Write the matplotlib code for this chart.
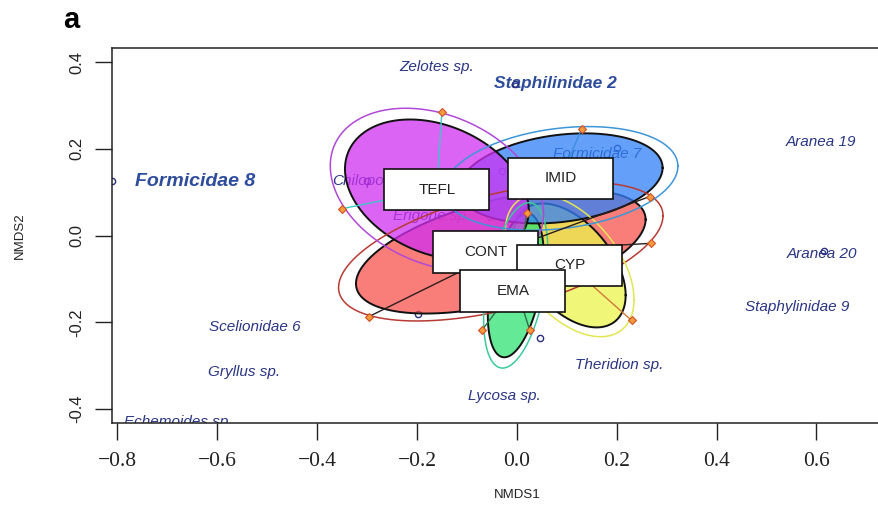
import matplotlib
matplotlib.use("Agg")
import matplotlib.pyplot as plt
from matplotlib.patches import Polygon, Rectangle
import numpy as np

# treatment groups (drawn in factor order, like vegan does)
groups = ["CONT", "CYP", "EMA", "IMID", "TEFL"]
cent_x = [-0.032, 0.106, -0.002, 0.088, -0.160]
cent_y = [-0.037, -0.069, -0.115, 0.132, 0.106]
half_x = [0.290, 0.112, 0.056, 0.204, 0.184]
half_y = [0.143, 0.143, 0.166, 0.104, 0.162]
corr = [0.517, -0.48, 0.41, 0.235, -0.293]
outer_scale = [1.12, 1.15, 1.15, 1.15, 1.16]
label_x = [-0.062, 0.106, -0.008, 0.088, -0.160]
label_y = [-0.038, -0.069, -0.128, 0.132, 0.106]

fill_cols = ["#F8514B", "#EBF54B", "#30E473", "#3080F8", "#D030F1"]
line_cols = ["#B83A34", "#E2E650", "#3CCB98", "#3C96D8", "#B048D8"]
spider_cols = ["#2A1E1E", "#D0783A", "#2E6E48", "#3A8FD8", "#3CC8C8"]

# sites (spider end points)
site_group = ["CONT", "CONT", "CONT", "CYP", "EMA", "EMA", "EMA", "IMID", "TEFL", "TEFL"]
site_x = [-0.296, 0.268, 0.266, 0.230, -0.070, 0.026, 0.020, 0.130, -0.150, -0.350]
site_y = [-0.187, -0.018, 0.090, -0.196, -0.219, -0.219, 0.051, 0.247, 0.286, 0.062]

# species scores
sp_names = ["Zelotes sp.", "Staphilinidae 2", "Formicidae 8", "Aranea 19", "Formicidae 7",
            "Chilopoda", "Erigone sp.", "Aranea 20", "Staphylinidae 9", "Scelionidae 6",
            "Gryllus sp.", "Theridion sp.", "Lycosa sp.", "Echemoides sp."]
sp_x = [-0.160, 0.078, -0.644, 0.610, 0.162, -0.300, -0.170, 0.612, 0.562, -0.524,
        -0.546, 0.206, -0.024, -0.678]
sp_y = [0.388, 0.351, 0.125, 0.215, 0.189, 0.125, 0.046, -0.042, -0.166, -0.212,
        -0.314, -0.298, -0.370, -0.430]
sp_bold = [False, True, True, False, False, False, False, False, False, False,
           False, False, False, False]
sp_size = [11, 12.5, 14, 11, 11, 11, 11, 11, 11, 11, 11, 11, 11, 11]

pt_x = [0.200, -0.030, -0.198, 0.046, 0.616, -0.300, -0.004, -0.810, -0.054]
pt_y = [0.203, 0.148, -0.180, -0.236, -0.035, 0.125, 0.351, 0.125, 0.042]

x_ticks = [-0.8, -0.6, -0.4, -0.2, 0.0, 0.2, 0.4, 0.6]
y_ticks = [-0.4, -0.2, 0.0, 0.2, 0.4]


def ellipse_xy(cx, cy, hx, hy, rho, scale=1.0, n=240):
    t = np.linspace(0, 2 * np.pi, n)
    x = cx + scale * hx * np.cos(t)
    y = cy + scale * hy * (rho * np.cos(t) + np.sqrt(1 - rho ** 2) * np.sin(t))
    return x, y


def fmt(v, minus):
    s = "%.1f" % abs(v)
    return (minus + s) if v < -1e-9 else s


fig = plt.figure(figsize=(8.79, 5.2), dpi=100)
ax = fig.add_axes([0.1271, 0.1871, 0.904, 0.7206])
ax.set_xlim(-0.811, 0.78)
ax.set_ylim(-0.432, 0.433)

# species names
for name, x, y, b, fs in zip(sp_names, sp_x, sp_y, sp_bold, sp_size):
    if b:
        ax.text(x, y, name, fontsize=fs, style="italic", weight="bold", color="#2E4C9C",
                ha="center", va="center", family="Liberation Sans", zorder=1, clip_on=True)
    else:
        ax.text(x, y, name, fontsize=fs, style="italic", color="#2A3585",
                ha="center", va="center", family="Liberation Sans", zorder=1, clip_on=True)
ax.plot(pt_x, pt_y, "o", mfc="none", mec="#2A2F80", ms=4.5, mew=1, zorder=1.5)

# ellipses
for i, g in enumerate(groups):
    ex, ey = ellipse_xy(cent_x[i], cent_y[i], half_x[i], half_y[i], corr[i])
    ax.add_patch(Polygon(np.column_stack([ex, ey]), closed=True, facecolor=fill_cols[i],
                         alpha=0.75, edgecolor="none", zorder=2 + i * 0.1))
    ax.plot(ex, ey, color="#111111", lw=1.4, zorder=2.05 + i * 0.1)
    ox, oy = ellipse_xy(cent_x[i], cent_y[i], half_x[i], half_y[i], corr[i], outer_scale[i])
    ax.plot(ox, oy, color=line_cols[i], lw=1.1, zorder=3)

# spiders
for g, x, y in zip(site_group, site_x, site_y):
    i = groups.index(g)
    ax.plot([cent_x[i], x], [cent_y[i], y], color=spider_cols[i], lw=1, zorder=4)
ax.plot(site_x, site_y, "D", color="#F39C3C", mec="#D0502A", ms=4, mew=0.8, zorder=5)

# group labels in boxes
bw, bh = 0.21, 0.095
for i, g in enumerate(groups):
    ax.add_patch(Rectangle((label_x[i] - bw / 2, label_y[i] - bh / 2), bw, bh,
                           facecolor="white", edgecolor="#111111", lw=1.2, zorder=6 + i))
    ax.text(label_x[i], label_y[i], g, fontsize=11, color="#222222", ha="center",
            va="center", family="Liberation Sans", zorder=6.5 + i)

# axes in base-R look
for s in ax.spines.values():
    s.set_color("#222222")
    s.set_linewidth(1.1)
ax.set_xticks(x_ticks)
ax.set_xticklabels([fmt(v, "\u2212") for v in x_ticks],
                   family="Liberation Serif", fontsize=15.5)
ax.set_yticks(y_ticks)
ax.set_yticklabels([fmt(v, "-") for v in y_ticks], family="Liberation Sans",
                   fontsize=12, rotation=90, va="center")
ax.tick_params(axis="x", direction="out", length=12, width=1, pad=9, colors="#222222")
ax.tick_params(axis="y", direction="out", length=12, width=1, pad=8, colors="#222222")

fig.text(517 / 879, 1 - 495 / 520, "NMDS1", fontsize=9.5, family="Liberation Sans",
         ha="center", va="center", color="#222222")
fig.text(20 / 879, 1 - 236 / 520, "NMDS2", fontsize=9.5, family="Liberation Sans",
         ha="center", va="center", rotation=90, color="#222222")
fig.text(71 / 879, 1 - 20 / 520, "a", fontsize=21, weight="bold", family="Liberation Sans",
         ha="center", va="center")

fig.savefig("out.png", dpi=100)
